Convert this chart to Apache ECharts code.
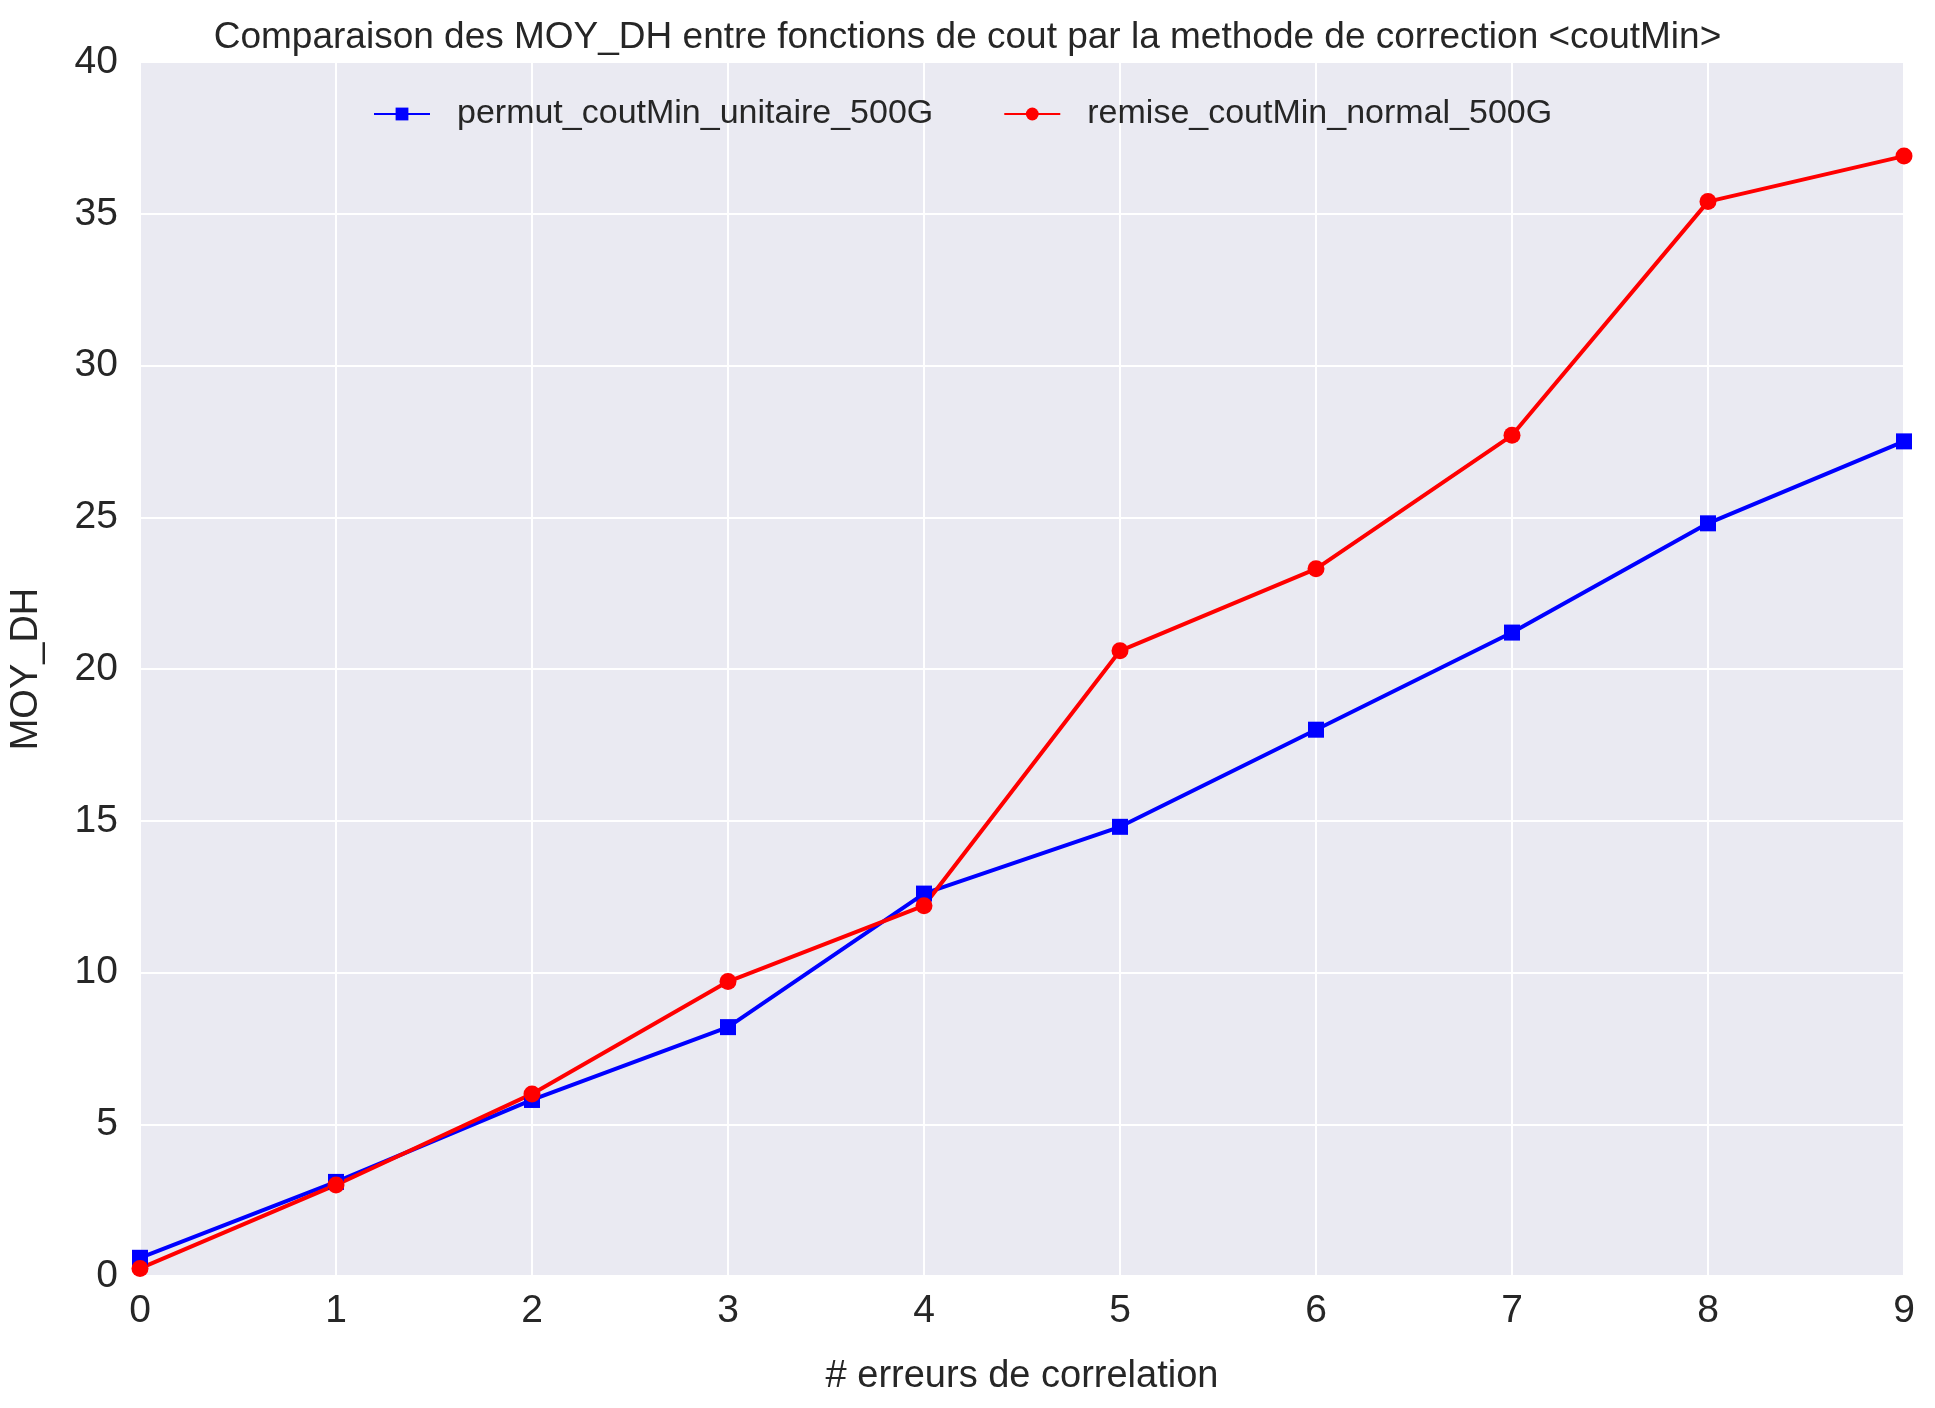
<!DOCTYPE html><html><head><meta charset="utf-8"><script src="https://cdn.jsdelivr.net/npm/echarts@6/dist/echarts.min.js"></script>
<style>body{margin:0;background:#fff}#c{width:1935px;height:1408px}</style></head><body><div id="c"></div><script>
const categories=[0,1,2,3,4,5,6,7,8,9];
const permutValues=[0.6,3.1,5.8,8.2,12.6,14.8,18.0,21.2,24.8,27.5];
const remiseValues=[0.25,3.0,6.0,9.7,12.2,20.6,23.3,27.7,35.4,36.9];
const F='Liberation Sans, Arial, sans-serif';
const c=echarts.init(document.getElementById('c'));
c.setOption({
 animation:false,
 title:{text:'Comparaison des MOY_DH entre fonctions de cout par la methode de correction <coutMin>',left:'center',top:14,textStyle:{fontFamily:F,fontSize:37,fontWeight:'normal',color:'#262626'}},
 legend:{top:92,left:368,itemGap:70,itemWidth:56,itemHeight:16,textStyle:{fontFamily:F,fontSize:34,color:'#262626',padding:[0,0,0,22]},
  data:['permut_coutMin_unitaire_500G','remise_coutMin_normal_500G']},
 grid:{left:139,right:31,top:62,bottom:132,backgroundColor:'#EAEAF2',show:true,borderWidth:0},
 xAxis:{type:'value',min:0,max:9,interval:1,name:'# erreurs de correlation',nameLocation:'middle',nameGap:82,
  nameTextStyle:{fontFamily:F,fontSize:38,color:'#262626'},
  axisLine:{show:false},axisTick:{show:false},axisLabel:{fontFamily:F,fontSize:39,color:'#262626',margin:16},
  splitLine:{lineStyle:{color:'#fff',width:2}}},
 yAxis:{type:'value',min:0,max:40,interval:5,name:'MOY_DH',nameLocation:'middle',nameGap:94,
  nameTextStyle:{fontFamily:F,fontSize:38,color:'#262626'},
  axisLine:{show:false},axisTick:{show:false},axisLabel:{fontFamily:F,fontSize:39,color:'#262626',margin:22},
  splitLine:{lineStyle:{color:'#fff',width:2}}},
 series:[
  {name:'permut_coutMin_unitaire_500G',type:'line',data:categories.map((x,i)=>[x,permutValues[i]]),symbol:'rect',symbolSize:16,
   itemStyle:{color:'#0000ff'},lineStyle:{color:'#0000ff',width:4},clip:false},
  {name:'remise_coutMin_normal_500G',type:'line',data:categories.map((x,i)=>[x,remiseValues[i]]),symbol:'circle',symbolSize:17,
   itemStyle:{color:'#ff0000'},lineStyle:{color:'#ff0000',width:4},clip:false}
 ]
});
</script></body></html>
